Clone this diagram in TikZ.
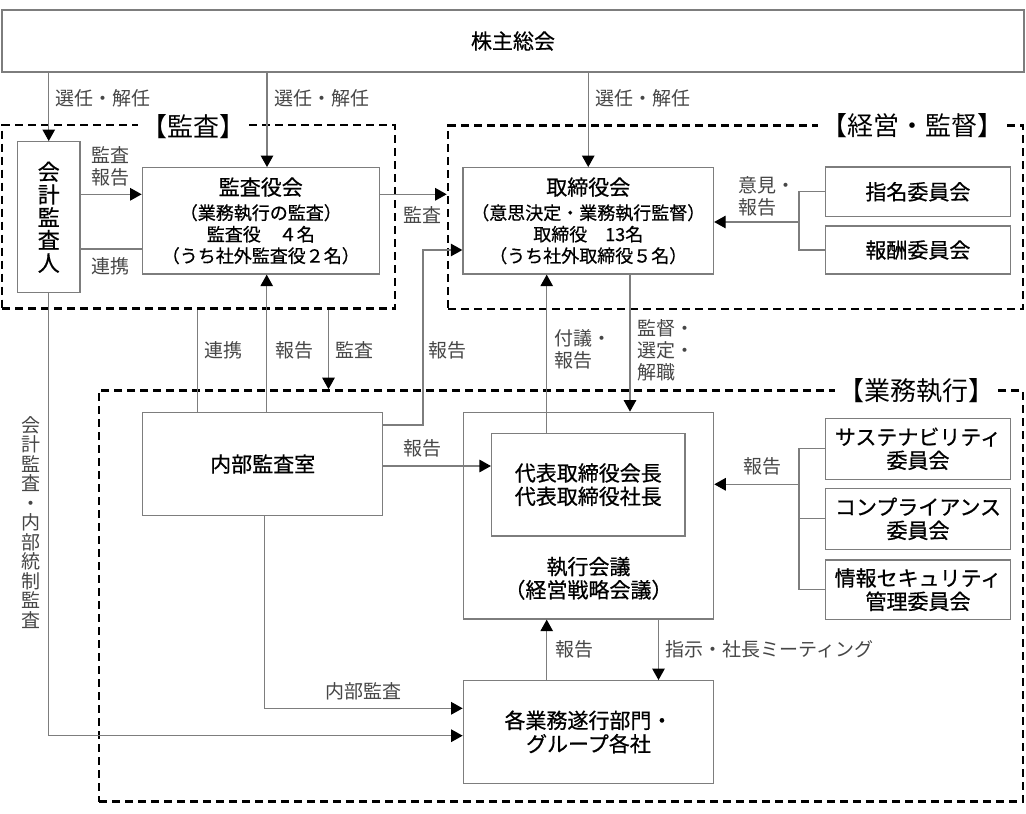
\documentclass[tikz,border=0pt]{standalone}
\usepackage{fontspec}
\setmainfont{Noto Sans CJK JP}
\newfontfamily\boxfont[FakeBold=0.6]{Noto Sans CJK JP}
\usetikzlibrary{arrows.meta}
\definecolor{boxgray}{RGB}{125,125,125}
\definecolor{lblgray}{RGB}{70,70,70}
\tikzset{
  box/.style={draw=boxgray, line width=1.3pt, fill=white, inner sep=0pt, align=center, font=\boxfont\fontsize{21}{23.4}\selectfont},
  conn/.style={draw=boxgray, line width=1.2pt},
  arr/.style={conn, -{Triangle[length=11.5pt,width=12.5pt,color=black]}},
  lbl/.style={text=lblgray, font=\fontsize{19}{22}\selectfont, inner sep=0pt, align=left, anchor=west},
  grp/.style={draw=black, line width=2.6pt, dash pattern=on 8pt off 5pt, inner sep=0pt},
  grptitle/.style={fill=white, inner xsep=3pt, inner ysep=1pt, font=\fontsize{26}{30}\selectfont},
  sub/.style={font=\boxfont\fontsize{18}{21.5}\selectfont},
}
\begin{document}
\begin{tikzpicture}[x=1pt,y=-1pt]
\useasboundingbox (0,0) rectangle (1026,814);
% groups
\node[grp, minimum width=393, minimum height=183.5] (gKansa) at (198.5,216.75) {};
\node[grp, minimum width=575, minimum height=183.5] (gKeiei) at (735.5,217.25) {};
\node[grp, minimum width=924, minimum height=411.2] (gGyomu) at (561,596.1) {};
\node[grptitle] (tKansa) at (193,127) {【監査】};
\node[grptitle] (tKeiei) at (912,125.5) {【経営・監督】};
\node[grptitle] (tGyomu) at (916,390.5) {【業務執行】};
% boxes
\node[box, minimum width=1022, minimum height=62] (kabu) at (513,41) {株主総会};
\node[box, minimum width=62.5, minimum height=151, font=\boxfont\fontsize{22}{22.8}\selectfont] (kaikei) at (48.75,217.2) {会\\計\\監\\査\\人};
\node[box, minimum width=237, minimum height=106.3, sub] (kansayaku) at (260.8,220.85)
  {{\fontsize{21}{22}\selectfont 監査役会}\\[3pt]（業務執行の監査）\\監査役　４名\\（うち社外監査役２名）};
\node[box, minimum width=250.5, minimum height=106.3, sub] (torishimari) at (588.25,220.85)
  {{\fontsize{21}{22}\selectfont 取締役会}\\[3pt]（意思決定・業務執行監督）\\取締役　13名\\（うち社外取締役５名）};
\node[box, minimum width=185, minimum height=49.5] (shimei) at (917.9,191.75) {指名委員会};
\node[box, minimum width=185, minimum height=48] (houshu) at (917.9,250) {報酬委員会};
\node[box, minimum width=240, minimum height=103.4] (naibu) at (262.7,464) {内部監査室};
\node[box, minimum width=250.3, minimum height=206.7] (shikko) at (588.45,515.65) {};
\node[box, minimum width=193.4, minimum height=102.7] (daihyo) at (588.3,484.65) {代表取締役会長\\代表取締役社長};
\node[inner sep=0pt, align=center, font=\boxfont\fontsize{21}{23.3}\selectfont] (shikkoT) at (588.45,578.3) {執行会議\\（経営戦略会議）};
\node[box, minimum width=185.2, minimum height=61] (sustain) at (918,448.8) {サステナビリティ\\委員会};
\node[box, minimum width=185.2, minimum height=61] (compl) at (918,518.8) {コンプライアンス\\委員会};
\node[box, minimum width=185.2, minimum height=59.3] (info) at (918,589.65) {情報セキュリティ\\管理委員会};
\node[box, minimum width=250.3, minimum height=102.6] (kaku) at (588.45,732) {各業務遂行部門・\\グループ各社};
% connectors
\draw[arr] (kabu.south -| kaikei.north) -- (kaikei.north);
\draw[arr] (kabu.south -| 267,0) -- (kansayaku.north -| 267,0);
\draw[arr] (kabu.south -| torishimari.north) -- (torishimari.north);
\draw[arr] (kaikei.east |- 0,194.3) -- (kansayaku.west |- 0,194.3);
\draw[conn] (kaikei.east |- 0,249) -- (kansayaku.west |- 0,249);
\draw[arr] (kansayaku.east |- 0,194.3) -- (gKeiei.west |- 0,194.3);
\draw[arr] (naibu.north -| 266.7,0) -- (kansayaku.south -| 266.7,0);
\draw[conn] (gKansa.south -| 197.5,0) -- (naibu.north -| 197.5,0);
\draw[arr] (gKansa.south -| 328.5,0) -- (gGyomu.north -| 328.5,0);
\coordinate (bendR) at (423,250);
\draw[arr] (naibu.east |- 0,425) -| (bendR) -- (torishimari.west |- bendR);
\draw[arr] (naibu.east |- 0,466) -- (daihyo.west |- 0,466);
\draw[arr] (daihyo.north -| 546.7,0) -- (torishimari.south -| 546.7,0);
\draw[arr] (torishimari.south -| 630,0) -- (shikko.north -| 630,0);
\coordinate (jK) at (799,222);
\draw[conn] (shimei.west) -- (shimei.west -| jK) -- (houshu.west -| jK) -- (houshu.west);
\draw[arr] (jK) -- (torishimari.east |- jK);
\coordinate (jG) at (799,484.3);
\draw[conn] (sustain.west) -- (sustain.west -| jG) -- (info.west -| jG) -- (info.west);
\draw[conn] (compl.west) -- (compl.west -| jG);
\draw[arr] (jG) -- (shikko.east |- jG);
\draw[arr] (kaku.north -| 546.7,0) -- (shikko.south -| 546.7,0);
\draw[arr] (shikko.south -| 658.5,0) -- (kaku.north -| 658.5,0);
\draw[arr] (naibu.south -| 264.3,0) |- (kaku.west |- 0,708.3);
\draw[arr] (kaikei.south) |- (kaku.west |- 0,735.7);
% labels
\node[lbl] (l1) at (55,98) {選任・解任};
\node[lbl] (l2) at (274.5,98) {選任・解任};
\node[lbl] (l3) at (595,98) {選任・解任};
\node[lbl] (l4) at (91.7,166) {監査\\報告};
\node[lbl] (l5) at (91.7,266.7) {連携};
\node[lbl] (l6) at (403,215) {監査};
\node[lbl] (l7) at (204,350) {連携};
\node[lbl] (l8) at (275,350) {報告};
\node[lbl] (l9) at (335,350) {監査};
\node[lbl] (l10) at (428,350) {報告};
\node[lbl] (l11) at (554,349.5) {付議・\\報告};
\node[lbl] (l12) at (637.3,350) {監督・\\選定・\\解職};
\node[lbl] (l13) at (738,196.5) {意見・\\報告};
\node[lbl] (l14) at (743,466.7) {報告};
\node[lbl] (l15) at (403,448.3) {報告};
\node[lbl] (l16) at (555,649.3) {報告};
\node[lbl] (l17) at (665,649.3) {指示・社長ミーティング};
\node[lbl] (l18) at (325,691.7) {内部監査};
\node[text=lblgray, inner sep=0pt, align=center, font=\fontsize{19}{19.5}\selectfont] (l19) at (31,522.5) {会\\計\\監\\査\\・\\内\\部\\統\\制\\監\\査};
\end{tikzpicture}
\end{document}
